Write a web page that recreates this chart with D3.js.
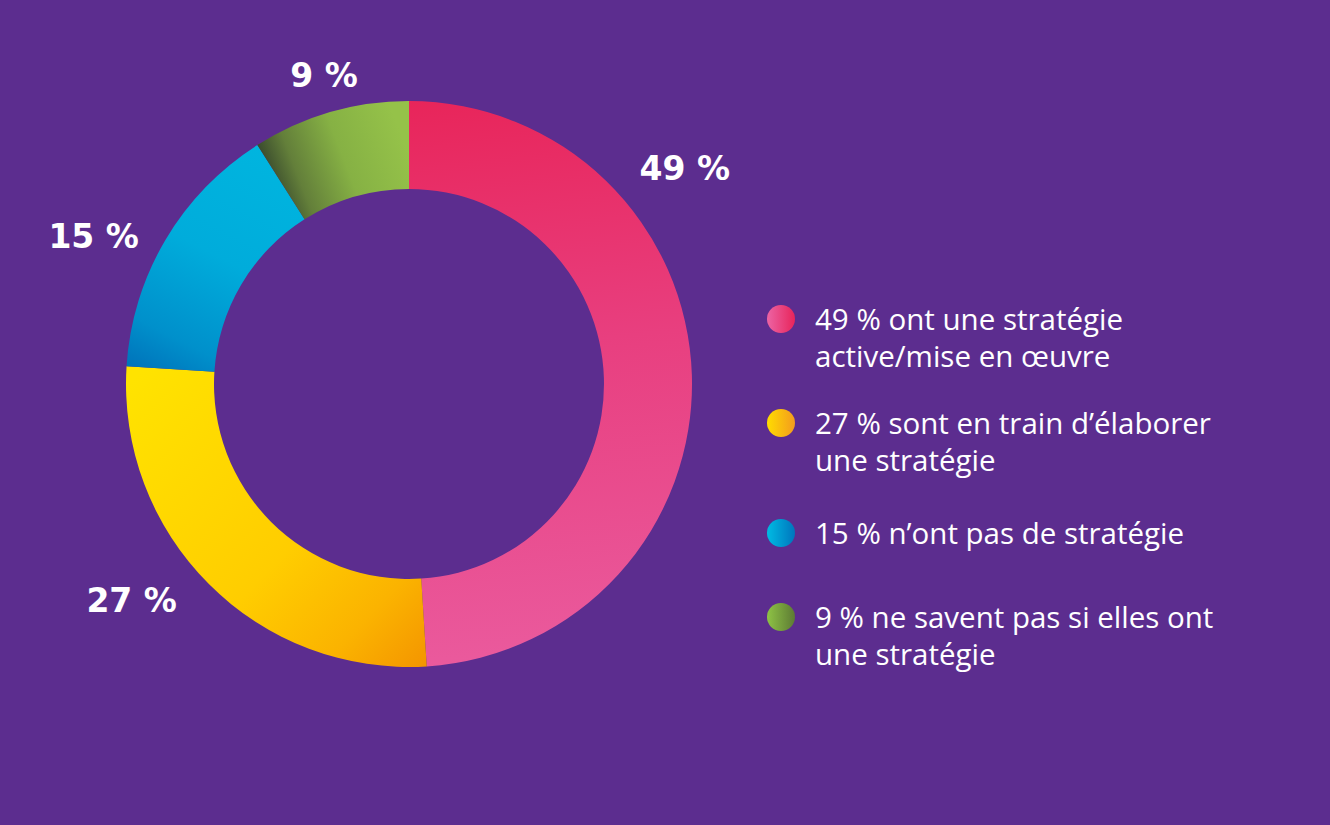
<!DOCTYPE html>
<html><head><meta charset="utf-8">
<script src="https://cdn.jsdelivr.net/npm/d3@7"></script>
<style>html,body{margin:0;padding:0;background:#5c2d8f;}svg{display:block;}</style>
</head><body>
<svg id="c" width="1330" height="825"></svg>
<script>
const categories = ["active", "train", "none", "unknown"];
const values = [49, 27, 15, 9];
const valueLabels = ["49 %", "27 %", "15 %", "9 %"];
const legendLines = [
  ["49 % ont une stratégie", "active/mise en œuvre"],
  ["27 % sont en train d’élaborer", "une stratégie"],
  ["15 % n’ont pas de stratégie"],
  ["9 % ne savent pas si elles ont", "une stratégie"]
];

// layout
const W = 1330, H = 825, cx = 409, cy = 384, rOut = 283, rIn = 195;
const labelAnchor = [[52, 350], [232, 352], [295, 348], [344.6, 320]]; // deg, radius
const legendY = [319, 423, 533, 617];
const lineGap = 37;

const svg = d3.select("#c");
svg.append("rect").attr("width", W).attr("height", H).attr("fill", "#5c2d8f");
const defs = svg.append("defs");

function lg(id, x1, y1, x2, y2, stops, units) {
  const g = defs.append("linearGradient").attr("id", id)
    .attr("x1", x1).attr("y1", y1).attr("x2", x2).attr("y2", y2);
  if (units) g.attr("gradientUnits", units);
  stops.forEach(s => g.append("stop").attr("offset", s[0]).attr("stop-color", s[1]));
}
// arc gradients (user space relative to donut centre)
lg("g0", 0, -rOut, 60, rOut, [[0, "#e8255a"], [0.45, "#e83f7f"], [1, "#ea5a9d"]], "userSpaceOnUse");
lg("g1", -270, -10, 30, 280, [[0, "#ffe300"], [0.55, "#ffcd00"], [0.8, "#fbb300"], [1, "#f39200"]], "userSpaceOnUse");
lg("g2", -150, -240, -270, -5, [[0, "#00b5df"], [0.45, "#00acdb"], [0.8, "#0090cb"], [1, "#006fb8"]], "userSpaceOnUse");
lg("g3", 0, -230, -130, -180, [[0, "#95c249"], [0.45, "#86b144"], [0.8, "#637f3a"], [1, "#394a2d"]], "userSpaceOnUse");
// legend gradients
lg("l0", 0, 0, 1, 0, [[0, "#ec64a4"], [1, "#e8245a"]]);
lg("l1", 0, 0, 1, 0, [[0, "#ffdc00"], [1, "#f39b1e"]]);
lg("l2", 0, 0, 1, 0, [[0, "#00bbe3"], [1, "#0075bd"]]);
lg("l3", 0, 0, 1, 0, [[0, "#8ec345"], [1, "#5d7a34"]]);

const pie = d3.pie().sort(null).value(d => d).startAngle(0).endAngle(2 * Math.PI);
const arc = d3.arc().innerRadius(rIn).outerRadius(rOut);
const arcs = pie(values);

const g = svg.append("g").attr("transform", `translate(${cx},${cy})`);
g.selectAll("path").data(arcs).join("path")
  .attr("d", arc)
  .attr("fill", (d, i) => `url(#g${i})`);

g.selectAll("text.lbl").data(arcs).join("text")
  .attr("class", "lbl")
  .attr("x", (d, i) => labelAnchor[i][1] * Math.sin(labelAnchor[i][0] * Math.PI / 180))
  .attr("y", (d, i) => -labelAnchor[i][1] * Math.cos(labelAnchor[i][0] * Math.PI / 180))
  .attr("text-anchor", "middle")
  .attr("dominant-baseline", "central")
  .attr("fill", "#ffffff")
  .attr("font-family", "'DejaVu Sans', sans-serif")
  .attr("font-weight", 700)
  .attr("font-size", 33)
  .text((d, i) => valueLabels[i]);

const leg = svg.append("g");
const items = leg.selectAll("g").data(categories).join("g")
  .attr("transform", (d, i) => `translate(781,${legendY[i]})`);
items.append("circle").attr("r", 14).attr("fill", (d, i) => `url(#l${i})`);
items.each(function (d, i) {
  const t = d3.select(this).append("text")
    .attr("fill", "#ffffff")
    .attr("font-family", "'Open Sans', sans-serif")
    .attr("font-size", 29.5)
    .attr("font-weight", 500);
  legendLines[i].forEach((ln, j) => {
    t.append("tspan").attr("x", 34).attr("y", 11 + j * lineGap).text(ln);
  });
});
</script>
</body></html>
